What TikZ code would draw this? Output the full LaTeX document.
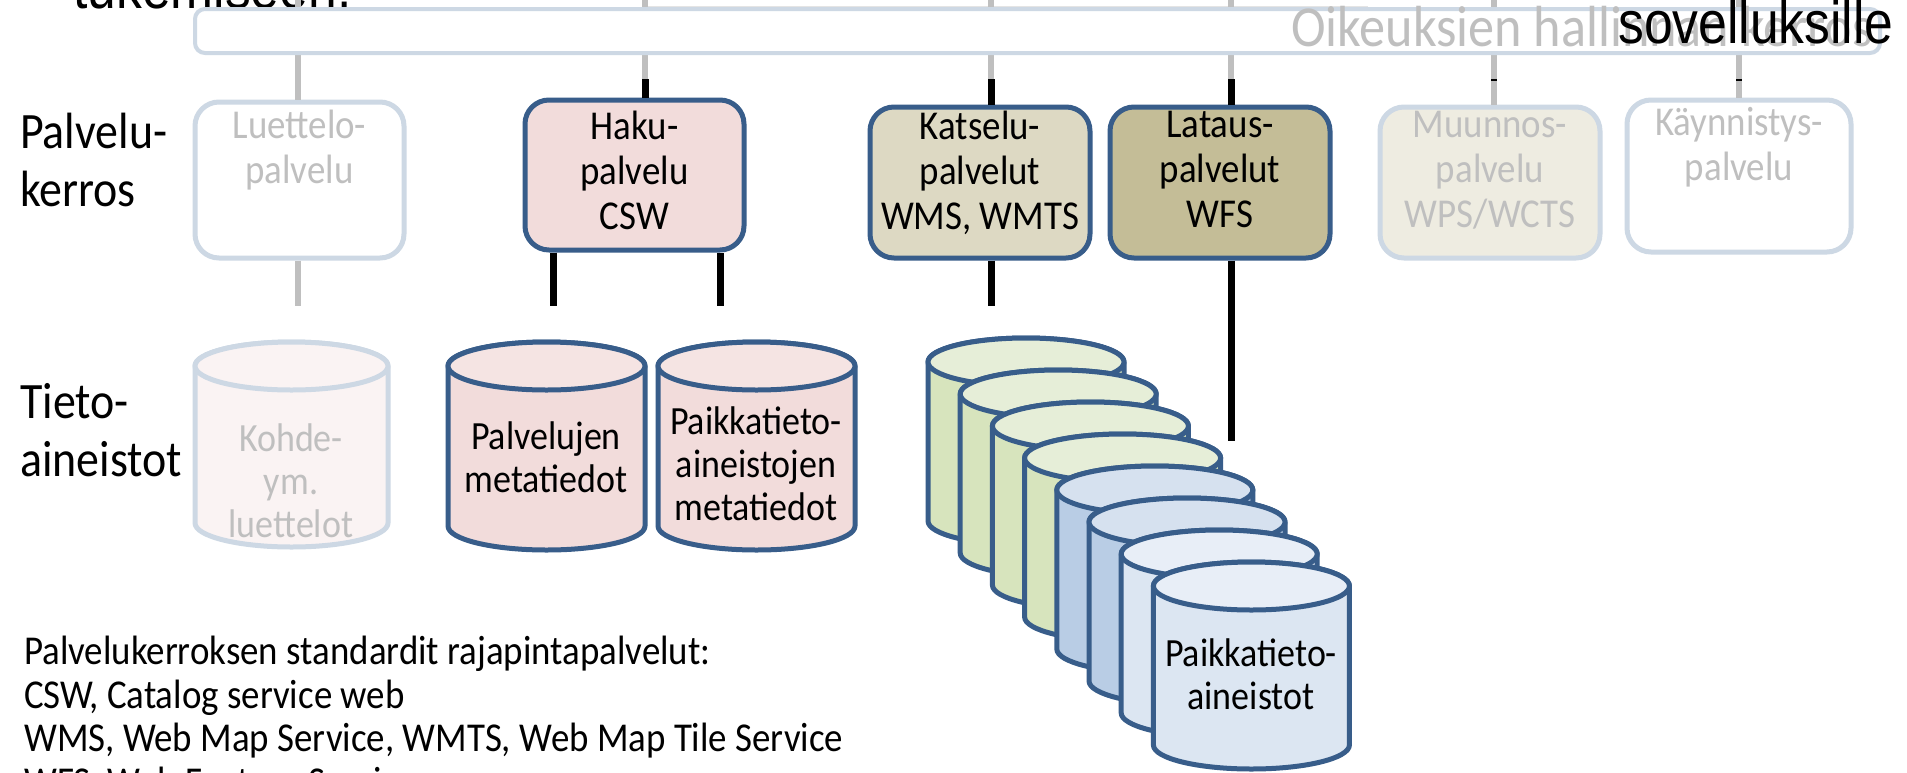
\documentclass[tikz,border=0pt]{standalone}
\usepackage{fontspec}
\setmainfont[FakeStretch=0.9]{Carlito}
\newfontfamily\arialf[FakeStretch=0.86]{Liberation Sans}
\definecolor{dblue}{HTML}{385D8A}
\definecolor{fblue}{HTML}{CDD8E4}
\definecolor{cgray}{HTML}{BFBFBF}
\definecolor{ftext}{HTML}{BFBFBF}
\definecolor{hakuf}{HTML}{F2DCDB}
\definecolor{katf}{HTML}{DDD9C3}
\definecolor{latf}{HTML}{C4BD97}
\definecolor{muunf}{HTML}{EEECE1}
\definecolor{kohdef}{HTML}{FAF3F3}
\definecolor{greenb}{HTML}{D7E4BD}
\definecolor{greent}{HTML}{E6EED8}
\definecolor{blueb}{HTML}{B9CDE5}
\definecolor{bluet}{HTML}{D6E1EF}
\definecolor{lblueb}{HTML}{DCE6F2}
\definecolor{lbluet}{HTML}{E8EEF7}
\definecolor{pinkt}{HTML}{F5E4E3}
\definecolor{topgray}{HTML}{E4E4E4}
\tikzset{
  svc/.style={draw=dblue, line width=5pt, rounded corners=24pt, inner sep=0pt},
  svcf/.style={draw=fblue, line width=5pt, rounded corners=24pt, inner sep=0pt},
  svctext/.style={font=\fontsize{41}{45}\selectfont, align=center, inner sep=0pt, anchor=north},
  cyltext/.style={font=\fontsize{40}{43}\selectfont, align=center, inner sep=0pt, anchor=north},
  lbl/.style={font=\fontsize{51}{58}\selectfont, align=left, inner sep=0pt, anchor=north west},
  cyl/.style={line width=5pt, line join=round},
  gline/.style={draw=cgray, line width=6pt},
  bline/.style={draw=black, line width=7pt},
}
\newcommand\dbcyl[8]{%
  \pgfmathsetmacro\cxr{#3/2}%
  \pgfmathsetmacro\cyt{#2+#5}%
  \pgfmathsetmacro\cyb{#2+#4-#5}%
  \pgfmathsetmacro\cxl{#1}%
  \pgfmathsetmacro\cxrr{#1+#3}%
  \pgfmathsetmacro\cxc{#1+#3/2}%
  \filldraw[cyl, fill=#6, draw=#8] (\cxl,\cyt) -- (\cxl,\cyb)
     arc[start angle=180, end angle=360, x radius=\cxr pt, y radius=#5 pt]
     -- (\cxrr,\cyt)
     arc[start angle=0, end angle=180, x radius=\cxr pt, y radius=#5 pt] -- cycle;
  \filldraw[cyl, fill=#7, draw=#8] (\cxc,\cyt) ellipse[x radius=\cxr pt, y radius=#5 pt];
}
\begin{document}
\begin{tikzpicture}[x=1pt,y=-1pt]
\clip (0,0) rectangle (1907,772);
\fill[white] (0,0) rectangle (1907,772);

% cut-off text at the very top
\node[font=\arialf\fontsize{60}{66}\selectfont, anchor=base west, inner sep=0pt] (tuk) at (73,8) {tukemiseen.};
\draw[topgray, line width=3pt] (643,7) -- (1368,7);

% top coordinates of the connectors
\coordinate (t1) at (298,0);
\coordinate (t2) at (645,0);
\coordinate (t3) at (991,0);
\coordinate (t4) at (1231,0);
\coordinate (t5) at (1494,0);
\coordinate (t6) at (1739,0);

% service boxes
\node[svcf, fill=white, minimum width=209pt, minimum height=156pt] (luet) at (299.5,180) {};
\node[svc, fill=hakuf, minimum width=219pt, minimum height=150pt] (haku) at (634.5,175) {};
\node[svc, fill=katf, minimum width=220pt, minimum height=151pt] (kats) at (980,182.5) {};
\node[svc, fill=latf, minimum width=220pt, minimum height=151pt] (lata) at (1220,182.5) {};
\node[svcf, fill=muunf, minimum width=220pt, minimum height=151pt] (muun) at (1490,182.5) {};
\node[svcf, fill=white, minimum width=224pt, minimum height=152pt] (kayn) at (1739,176) {};

% gray connectors from the top
\draw[gline] (t1) -- (t1 |- luet.north);
\draw[gline] (t2) -- (t2 |- haku.north);
\draw[gline] (t3) -- (t3 |- kats.north);
\draw[gline] (t4) -- (t4 |- lata.north);
\draw[gline] (t5) -- (t5 |- muun.north);
\draw[gline] (t6) -- (t6 |- kayn.north);

% rights management bar
\node[draw=fblue, line width=4pt, fill=white, rounded corners=10pt, minimum width=1685pt, minimum height=44pt, inner sep=0pt] (bar) at (1037.5,31) {};
\node[font=\fontsize{58}{64}\selectfont, text=ftext, anchor=base east, inner sep=0pt] (bart) at (1873,46) {Oikeuksien hallinnan kerros};
\node[font=\arialf\fontsize{60}{66}\selectfont, anchor=base west, inner sep=0pt] (sov) at (1618,43) {sovelluksille};

% black segments
\coordinate (k2) at (645,79);
\coordinate (k3) at (991,79);
\coordinate (k4) at (1231,79);
\coordinate (k5) at (1494,79);
\coordinate (k6) at (1739,79);
\draw[bline] (k2) -- (k2 |- haku.north);
\draw[bline] (k3) -- (k3 |- kats.north);
\draw[bline] (k4) -- (k4 |- lata.north);
\draw[black, line width=6pt] (k5) -- ++(0,2);
\draw[black, line width=6pt] (k6) -- ++(0,2);

% box texts
\node[svctext, text=ftext] (luet-t) at ([yshift=-10pt]luet.north) {Luettelo-\\palvelu};
\node[svctext] (haku-t) at ([yshift=-13pt]haku.north) {Haku-\\palvelu\\CSW};
\node[svctext] (kats-t) at ([yshift=-6pt]kats.north) {Katselu-\\palvelut\\WMS, WMTS};
\node[svctext] (lata-t) at ([yshift=-6pt]lata.north) {Lataus-\\palvelut\\WFS};
\node[svctext, text=ftext] (muun-t) at ([yshift=-6pt]muun.north) {Muunnos-\\palvelu\\WPS/WCTS};
\node[svctext, text=ftext] (kayn-t) at ([yshift=-10pt]kayn.north) {Käynnistys-\\palvelu};

% side labels
\node[lbl] (pk) at (20,113) {Palvelu-\\kerros};
\node[lbl] (ta) at (20,383) {Tieto-\\aineistot};

% connectors downwards
\coordinate (d1) at (298,306);
\coordinate (d2) at (553,306);
\coordinate (d3) at (720,306);
\coordinate (d4) at (991,306);
\coordinate (d5) at (1231,441);
\draw[gline] (d1 |- luet.south) -- (d1);
\draw[bline] (d2 |- haku.south) -- (d2);
\draw[bline] (d3 |- haku.south) -- (d3);
\draw[bline] (d4 |- kats.south) -- (d4);
\draw[bline] (d5 |- lata.south) -- (d5);

% data cylinders
\dbcyl{195}{342}{193}{205}{24}{kohdef}{kohdef}{fblue}
\dbcyl{448}{342}{197}{208}{24}{hakuf}{pinkt}{dblue}
\dbcyl{658}{342}{197}{208}{24}{hakuf}{pinkt}{dblue}
\node[cyltext, text=ftext] (kohde-t) at (291,424) {Kohde-\\ym.\\luettelot};
\node[cyltext] (palv-t) at (546,422) {Palvelujen\\metatiedot};
\node[cyltext] (paik-t) at (756,407) {Paikkatieto-\\aineistojen\\metatiedot};

% stack of spatial data sets
\foreach \i/\bodyc/\topc in {0/greenb/greent,1/greenb/greent,2/greenb/greent,3/greenb/greent,4/blueb/bluet,5/blueb/bluet,6/lblueb/lbluet,7/lblueb/lbluet}{
  \pgfmathsetmacro\sxx{928+32.2*\i}
  \pgfmathsetmacro\stt{338+32*\i}
  \dbcyl{\sxx}{\stt}{196}{207}{24}{\bodyc}{\topc}{dblue}
}
\node[cyltext] (aine-t) at (1251,639) {Paikkatieto-\\aineistot};

% explanation text
\node[font=\fontsize{41}{43.5}\selectfont, align=left, anchor=north west, inner sep=0pt] (expl) at (24,636)
 {Palvelukerroksen standardit rajapintapalvelut:\\CSW, Catalog service web\\WMS, Web Map Service, WMTS, Web Map Tile Service\\WFS, Web Feature Service};
\end{tikzpicture}
\end{document}
